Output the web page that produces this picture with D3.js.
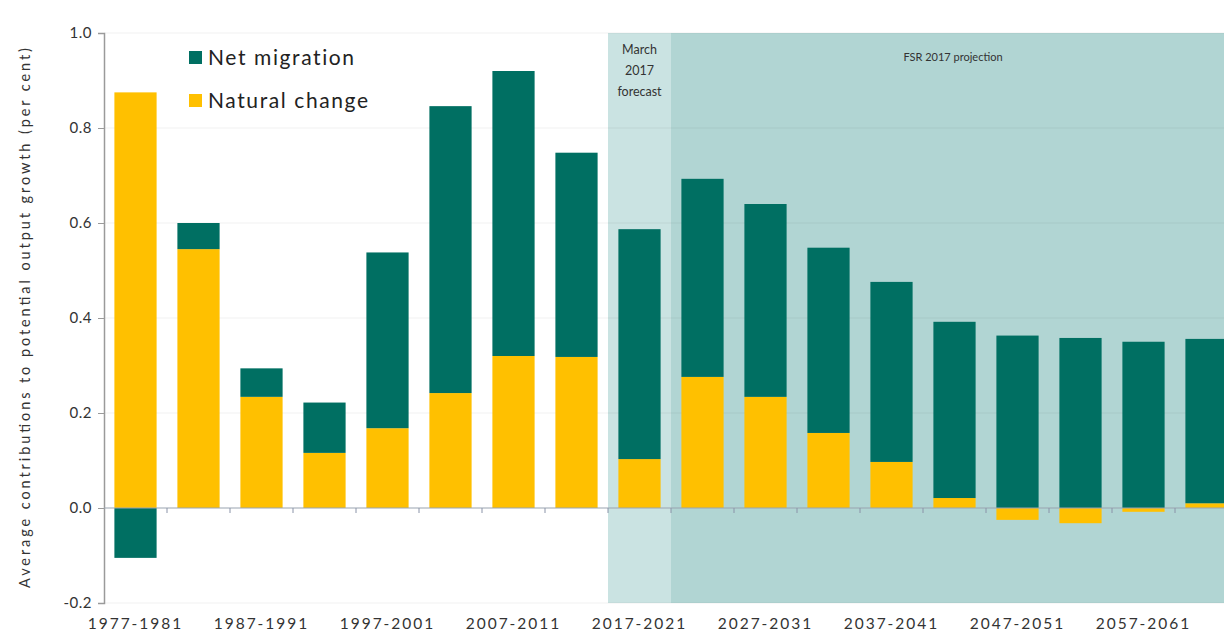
<!DOCTYPE html>
<html><head><meta charset="utf-8">
<script src="https://cdn.jsdelivr.net/npm/d3@7"></script>
<style>body{margin:0;background:#fff;} text{font-family:"Lato","DejaVu Sans",sans-serif;}</style>
</head><body>
<svg id="c" width="1224" height="640"></svg>
<script>
const categories = ["1977-1981","1982-1986","1987-1991","1992-1996","1997-2001","2002-2006","2007-2011","2012-2016","2017-2021","2022-2026","2027-2031","2032-2036","2037-2041","2042-2046","2047-2051","2052-2056","2057-2061","2062-2066"];
const naturalChange = [0.875,0.545,0.234,0.116,0.168,0.242,0.32,0.318,0.103,0.276,0.234,0.158,0.097,0.021,-0.025,-0.032,-0.008,0.01];
const netMigration  = [-0.105,0.055,0.06,0.106,0.37,0.604,0.60,0.43,0.484,0.417,0.406,0.39,0.379,0.371,0.363,0.358,0.35,0.346];
const yTicks = [-0.2,0.0,0.2,0.4,0.6,0.8,1.0];
const seriesNames = ["Natural change","Net migration"];
const shadeLabels = ["March 2017 forecast","FSR 2017 projection"];

const svg = d3.select("#c");
const x = d3.scaleBand().domain(categories).range([104,1238]).paddingInner(0.33).paddingOuter(0.165);
const y = d3.scaleLinear().domain([-0.2,1.0]).range([603,33]);
const colors = {"Natural change":"#ffc000","Net migration":"#006f62"};

// shaded regions
const step = x.step();
const x0 = x.range()[0];
const iF = categories.indexOf("2017-2021"), iP = categories.indexOf("2022-2026");
svg.append("rect").attr("x", x0+iF*step).attr("y", y(1.0)).attr("width", step).attr("height", y(-0.2)-y(1.0)).attr("fill","#cae3e2");
svg.append("rect").attr("x", x0+iP*step).attr("y", y(1.0)).attr("width", 1240-(x0+iP*step)).attr("height", y(-0.2)-y(1.0)).attr("fill","#b1d5d3");

// gridlines
svg.append("g").selectAll("line").data(yTicks.filter(d=>d!==0)).join("line")
  .attr("x1",104).attr("x2",1224).attr("y1",d=>y(d)).attr("y2",d=>y(d))
  .attr("stroke","#000").attr("stroke-opacity",0.06).attr("stroke-width",1.2);

// stacked bars
const rows = categories.map((c,i)=>({cat:c,"Natural change":naturalChange[i],"Net migration":netMigration[i]}));
const stack = d3.stack().keys(seriesNames).offset(d3.stackOffsetDiverging)(rows);
svg.append("g").selectAll("g").data(stack).join("g").attr("fill",d=>colors[d.key])
  .selectAll("rect").data(d=>d).join("rect")
  .attr("x",d=>x(d.data.cat)).attr("width",x.bandwidth())
  .attr("y",d=>y(Math.max(d[0],d[1]))).attr("height",d=>Math.abs(y(d[0])-y(d[1])));

// y axis
const ya = svg.append("g").attr("transform","translate(104,0)")
  .call(d3.axisLeft(y).tickValues(yTicks).tickFormat(d=>d.toFixed(1)).tickSize(6).tickPadding(6));
ya.select(".domain").attr("stroke","#9a9a9a").attr("stroke-width",1.5);
ya.selectAll(".tick line").attr("stroke","#9a9a9a");
ya.selectAll(".tick text").attr("font-size",15).attr("fill","#333").attr("font-family","Lato, sans-serif").attr("letter-spacing",0.5);

// zero line with ticks between bars
svg.append("line").attr("x1",104).attr("x2",1224).attr("y1",y(0)).attr("y2",y(0)).attr("stroke","#9aa3b0").attr("stroke-width",1.2);
svg.append("g").selectAll("line").data(d3.range(1,categories.length)).join("line")
  .attr("x1",i=>x0+i*step).attr("x2",i=>x0+i*step).attr("y1",y(0)).attr("y2",y(0)+5)
  .attr("stroke","#8a93a8").attr("stroke-width",1);

// x labels (every other)
svg.append("g").selectAll("text").data(categories.filter((c,i)=>i%2===0)).join("text")
  .attr("x",d=>x(d)+x.bandwidth()/2).attr("y",629).attr("text-anchor","middle")
  .attr("font-size",15.5).attr("fill","#333").attr("letter-spacing",2).text(d=>d);

// y title
svg.append("text").attr("transform","translate(30,318) rotate(-90)").attr("text-anchor","middle")
  .attr("font-size",14.5).attr("fill","#333").attr("textLength",540).attr("lengthAdjust","spacing")
  .text("Average contributions to potential output growth (per cent)");

// legend
const leg = [["Net migration",58],["Natural change",101]];
leg.forEach(([k,ly])=>{
  svg.append("rect").attr("x",189).attr("y",ly-7).attr("width",13).attr("height",13).attr("fill",colors[k]);
  svg.append("text").attr("x",208).attr("y",ly+7).attr("font-size",21).attr("fill","#222").attr("letter-spacing",1.6).text(k);
});

// shade annotations
const fx = x0+iF*step+step/2;
["March","2017","forecast"].forEach((t,i)=>{
  svg.append("text").attr("x",fx).attr("y",54+i*21).attr("text-anchor","middle").attr("font-size",12.5).attr("fill","#333").text(t);
});
svg.append("text").attr("x",953).attr("y",61).attr("text-anchor","middle").attr("font-size",11).attr("fill","#333").text(shadeLabels[1]);
</script>
</body></html>
